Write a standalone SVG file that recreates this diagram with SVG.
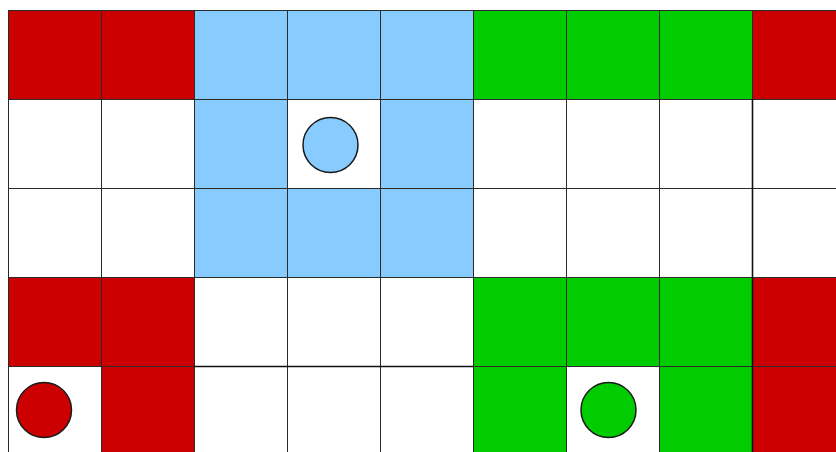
<svg xmlns="http://www.w3.org/2000/svg" width="836" height="452" viewBox="0 0 836 452">
<style>
.c{stroke:#2a2a2a;stroke-width:1}
.r{fill:#CC0000}.b{fill:#88CCFF}.g{fill:#00CC00}.w{fill:#FFFFFF}
circle{stroke:#1a1a1a;stroke-width:1.5}
</style>
<rect x="0" y="0" width="836" height="452" style="fill:#fff;stroke:none"/>
<g id="row0">
<rect class="c r" x="8.5" y="10.5" width="93" height="89"/>
<rect class="c r" x="101.5" y="10.5" width="93" height="89"/>
<rect class="c b" x="194.5" y="10.5" width="93" height="89"/>
<rect class="c b" x="287.5" y="10.5" width="93" height="89"/>
<rect class="c b" x="380.5" y="10.5" width="93" height="89"/>
<rect class="c g" x="473.5" y="10.5" width="93" height="89"/>
<rect class="c g" x="566.5" y="10.5" width="93" height="89"/>
<rect class="c g" x="659.5" y="10.5" width="93" height="89"/>
<rect class="c r" x="752.5" y="10.5" width="93" height="89"/>
</g>
<g id="row1">
<rect class="c w" x="8.5" y="99.5" width="93" height="89"/>
<rect class="c w" x="101.5" y="99.5" width="93" height="89"/>
<rect class="c b" x="194.5" y="99.5" width="93" height="89"/>
<rect class="c w" x="287.5" y="99.5" width="93" height="89"/>
<rect class="c b" x="380.5" y="99.5" width="93" height="89"/>
<rect class="c w" x="473.5" y="99.5" width="93" height="89"/>
<rect class="c w" x="566.5" y="99.5" width="93" height="89"/>
<rect class="c w" x="659.5" y="99.5" width="93" height="89"/>
<rect class="c w" x="752.5" y="99.5" width="93" height="89"/>
</g>
<g id="row2">
<rect class="c w" x="8.5" y="188.5" width="93" height="89"/>
<rect class="c w" x="101.5" y="188.5" width="93" height="89"/>
<rect class="c b" x="194.5" y="188.5" width="93" height="89"/>
<rect class="c b" x="287.5" y="188.5" width="93" height="89"/>
<rect class="c b" x="380.5" y="188.5" width="93" height="89"/>
<rect class="c w" x="473.5" y="188.5" width="93" height="89"/>
<rect class="c w" x="566.5" y="188.5" width="93" height="89"/>
<rect class="c w" x="659.5" y="188.5" width="93" height="89"/>
<rect class="c w" x="752.5" y="188.5" width="93" height="89"/>
</g>
<g id="row3">
<rect class="c r" x="8.5" y="277.5" width="93" height="89"/>
<rect class="c r" x="101.5" y="277.5" width="93" height="89"/>
<rect class="c w" x="194.5" y="277.5" width="93" height="89"/>
<rect class="c w" x="287.5" y="277.5" width="93" height="89"/>
<rect class="c w" x="380.5" y="277.5" width="93" height="89"/>
<rect class="c g" x="473.5" y="277.5" width="93" height="89"/>
<rect class="c g" x="566.5" y="277.5" width="93" height="89"/>
<rect class="c g" x="659.5" y="277.5" width="93" height="89"/>
<rect class="c r" x="752.5" y="277.5" width="93" height="89"/>
</g>
<g id="row4">
<rect class="c w" x="8.5" y="366.5" width="93" height="89"/>
<rect class="c r" x="101.5" y="366.5" width="93" height="89"/>
<rect class="c w" x="194.5" y="366.5" width="93" height="89"/>
<rect class="c w" x="287.5" y="366.5" width="93" height="89"/>
<rect class="c w" x="380.5" y="366.5" width="93" height="89"/>
<rect class="c g" x="473.5" y="366.5" width="93" height="89"/>
<rect class="c w" x="566.5" y="366.5" width="93" height="89"/>
<rect class="c g" x="659.5" y="366.5" width="93" height="89"/>
<rect class="c r" x="752.5" y="366.5" width="93" height="89"/>
</g>
<g id="accents" stroke="#111" stroke-width="1.6">
<line x1="752.5" y1="99" x2="752.5" y2="452"/>
<line x1="194" y1="366.5" x2="473" y2="366.5"/>
</g>
<g id="tokens">
<circle id="blue-token" cx="330.5" cy="145" r="27.5" fill="#88CCFF"/>
<circle id="red-token" cx="44" cy="410" r="27.5" fill="#CC0000"/>
<circle id="green-token" cx="608.5" cy="410" r="27.5" fill="#00CC00"/>
</g>
</svg>
